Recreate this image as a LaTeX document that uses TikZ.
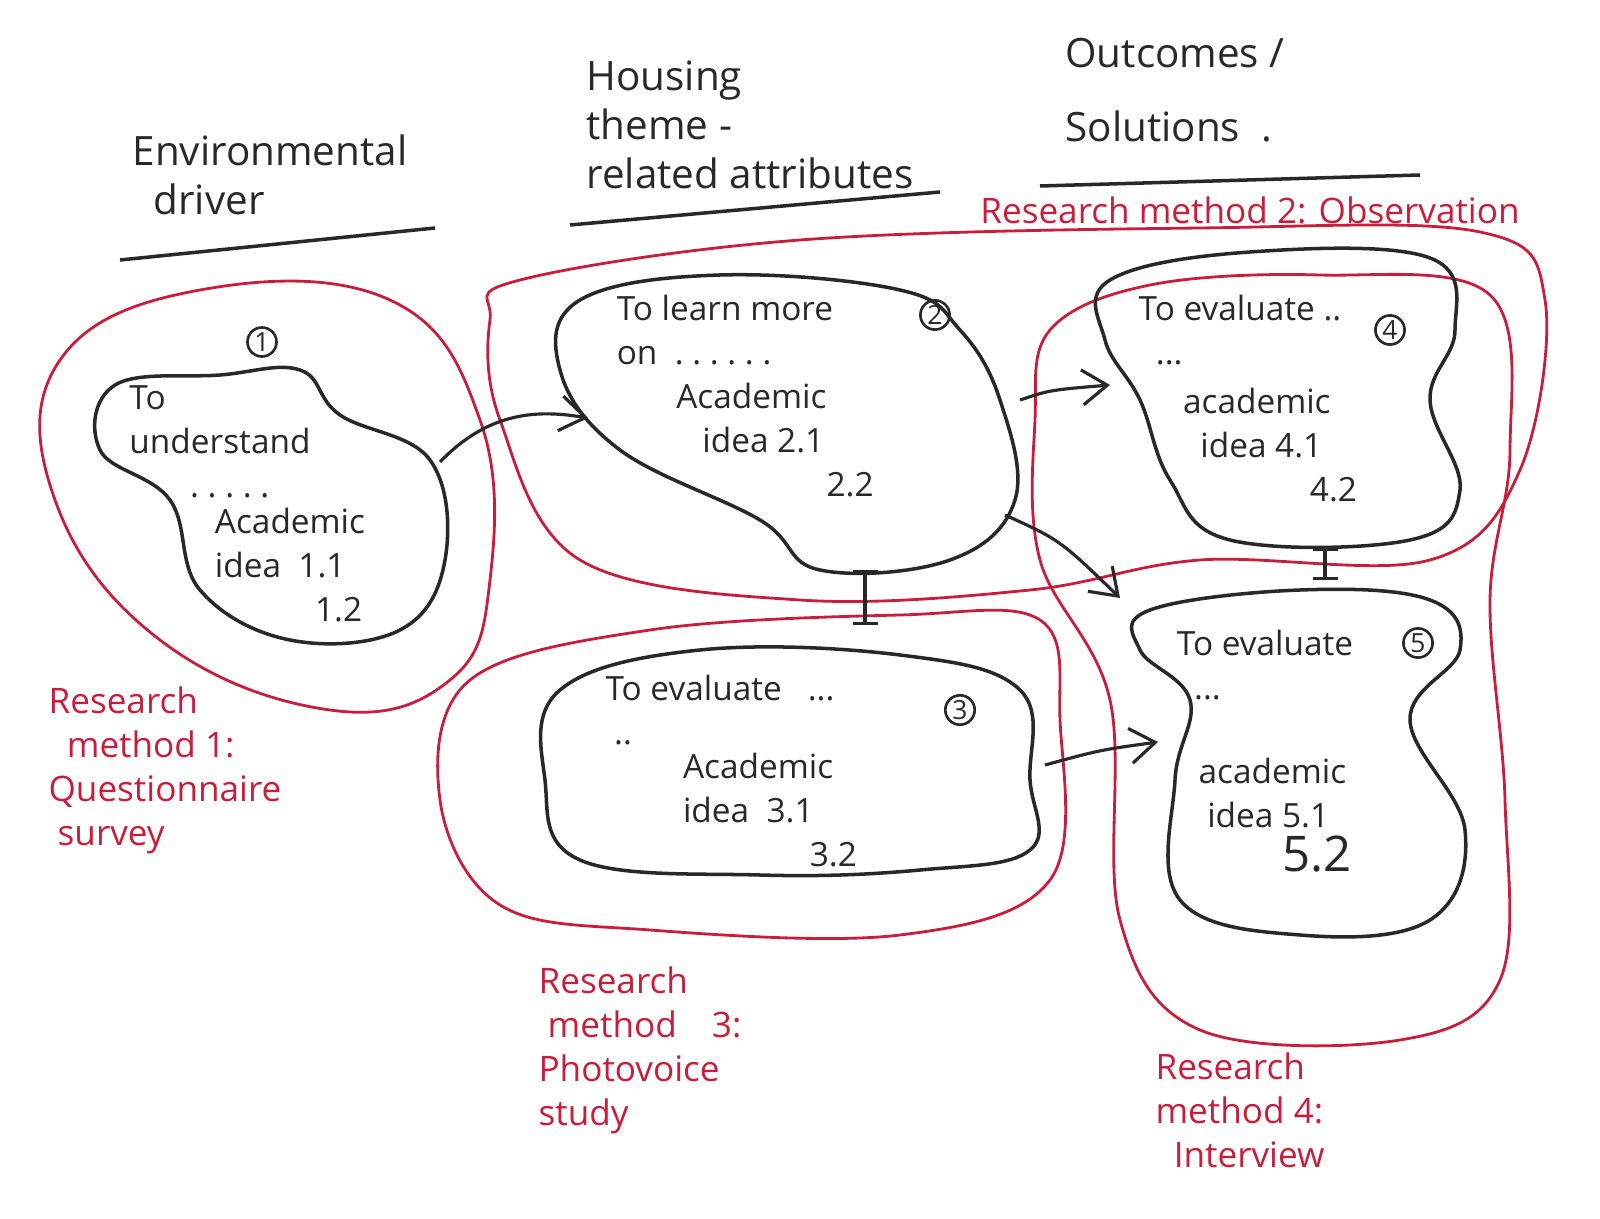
\documentclass[tikz,border=0pt]{standalone}
\usepackage{fontspec}
\setmainfont{Open Sans}
\usetikzlibrary{arrows.meta}
\definecolor{pen}{RGB}{40,40,40}
\definecolor{redpen}{RGB}{200,30,60}
\tikzset{
 blob/.style={draw=pen,line width=2pt},
 region/.style={draw=redpen,line width=1.6pt},
 htext/.style={text=pen,font=\fontsize{23}{28}\selectfont,align=left},
 btext/.style={text=pen,font=\fontsize{19}{25}\selectfont,align=left},
 rtext/.style={text=redpen,font=\fontsize{20}{25}\selectfont,align=left},
 num/.style={draw=pen,circle,line width=1.5pt,inner sep=1pt,text=pen,font=\fontsize{15}{17}\selectfont},
 conn/.style={draw=pen,line width=1.8pt,-{Straight Barb[length=5mm,width=7mm]}},
 dconn/.style={draw=pen,line width=1.8pt,{Bar[width=5mm]}-{Bar[width=5mm]}},
 uline/.style={draw=pen,line width=2pt}
}
\begin{document}
\begin{tikzpicture}[x=0.02cm,y=-0.02cm]
\useasboundingbox (0,0) rectangle (1600,1219);
% headers
\node[htext] (h1) at (270,175) {Environmental\\ \ \ driver};
\draw[uline] (120,260) -- (435,228);
\node[htext] (h2) at (750,125) {Housing\\theme -\\related attributes};
\draw[uline] (570,225) -- (940,192);
\node[htext] (h3) at (1175,90) {Outcomes /\\[14pt]Solutions \ .};
\draw[uline] (1040,186) -- (1420,175);
% red regions
\draw[region] plot[smooth cycle,tension=0.7] coordinates {(60,360)(200,290)(390,300)(480,420)(490,580)(450,680)(330,710)(160,640)(55,500)};
\draw[region] plot[smooth cycle,tension=0.6] coordinates {(520,280)(800,240)(1200,228)(1480,232)(1545,300)(1520,470)(1430,560)(1200,560)(1030,590)(800,600)(580,560)(500,420)(490,320)};
\draw[region] plot[smooth cycle,tension=0.6] coordinates {(470,680)(650,630)(900,615)(1040,620)(1060,720)(1050,880)(900,935)(650,930)(500,905)(440,800)};
\draw[region] plot[smooth cycle,tension=0.6] coordinates {(1050,330)(1150,285)(1320,275)(1490,295)(1510,450)(1490,600)(1505,800)(1500,980)(1400,1040)(1200,1030)(1120,920)(1110,700)(1040,560)(1035,420)};
% black blobs
\draw[blob] plot[smooth cycle,tension=0.65] coordinates {(115,385)(220,375)(300,370)(340,415)(430,460)(445,560)(400,630)(290,640)(200,590)(170,500)(100,450)};
\draw[blob] plot[smooth cycle,tension=0.65] coordinates {(580,300)(720,275)(900,290)(960,330)(1000,400)(1015,500)(950,560)(820,570)(760,520)(620,450)(560,370)};
\draw[blob] plot[smooth cycle,tension=0.65] coordinates {(560,690)(700,650)(900,655)(1020,690)(1030,780)(1030,850)(920,870)(760,875)(580,860)(545,780)};
\draw[blob] plot[smooth cycle,tension=0.65] coordinates {(1110,280)(1250,252)(1430,258)(1455,330)(1430,400)(1460,490)(1410,540)(1230,540)(1170,480)(1140,400)(1105,340)};
\draw[blob] plot[smooth cycle,tension=0.65] coordinates {(1150,610)(1300,590)(1430,600)(1460,650)(1410,720)(1465,830)(1430,920)(1300,935)(1180,900)(1175,780)(1190,700)(1140,650)};
% blob texts
\node[num] (n1) at (262,342) {1};
\node[btext] (t1) at (220,442) {To\\understand\\\ \ \ \ \ \ \ .\ .\ .\ .\ .};
\node[btext] (a1) at (290,565) {Academic\\idea \ 1.1\\\hspace{3em}1.2};
\node[num] (n2) at (935,315) {2};
\node[btext] (t2) at (725,330) {To learn more\\on\ \ .\ .\ .\ .\ .\ .};
\node[btext] (a2) at (775,440) {Academic\\\ \ \ idea 2.1\\\hspace{4.5em}2.2};
\node[num] (n3) at (960,710) {3};
\node[btext] (t3) at (720,710) {To evaluate \ \ ...\\ \ ..};
\node[btext] (a3) at (770,810) {Academic\\idea \ 3.1\\\hspace{3.8em}3.2};
\node[num] (n4) at (1390,330) {4};
\node[btext] (t4) at (1240,330) {To evaluate ..\\\ \ ...};
\node[btext] (a4) at (1270,445) {academic\\\ \ idea 4.1\\\hspace{3.8em}4.2};
\node[num] (n5) at (1418,643) {5};
\node[btext] (t5) at (1265,665) {To evaluate\\\ \ ...};
\node[btext] (a5) at (1275,815) {academic\\\ idea 5.1\\\hspace{2.5em}{\fontsize{28}{30}\selectfont 5.2}};
% red labels
\node[rtext] (r2) at (1250,210) {Research method 2: Observation};
\node[rtext] (r1) at (165,770) {Research\\\ \ method 1:\\Questionnaire\\\ survey};
\node[rtext] (r3) at (640,1050) {Research\\\ method\hspace{1em}3:\\Photovoice\\study};
\node[rtext] (r4) at (1240,1110) {Research\\method 4:\\\ \ Interview};
% connectors
\coordinate (c1s) at (440,462);
\coordinate (c1e) at (588,418);
\coordinate (c2s) at (1020,400);
\coordinate (c2e) at (1110,385);
\coordinate (c3s) at (1005,515);
\coordinate (c3e) at (1120,598);
\coordinate (c4s) at (1045,765);
\coordinate (c4e) at (1158,742);
\draw[conn] (c1s) .. controls (490,410) and (540,410) .. (c1e);
\draw[conn] (c2s) .. controls (1050,390) .. (c2e);
\draw[conn] (c3s) .. controls (1060,540) .. (c3e);
\draw[conn] (c4s) .. controls (1100,750) .. (c4e);
\coordinate (d1a) at (865,570);
\coordinate (d1b) at (865,625);
\coordinate (d2a) at (1325,548);
\coordinate (d2b) at (1325,580);
\draw[dconn] (d1a) -- (d1b);
\draw[dconn] (d2a) -- (d2b);
\end{tikzpicture}
\end{document}
